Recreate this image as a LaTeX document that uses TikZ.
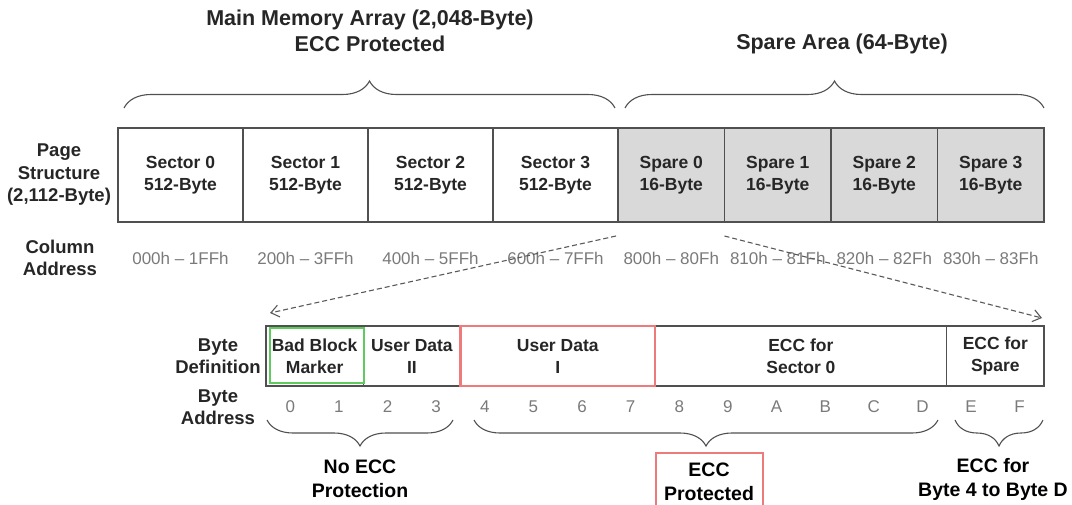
\documentclass[tikz,border=0pt]{standalone}
\usepackage{fontspec}
\setmainfont{Liberation Sans}
\usetikzlibrary{calc,positioning,arrows.meta,decorations.pathreplacing}

\definecolor{framegray}{HTML}{505050}
\definecolor{sparefill}{HTML}{D9D9D9}
\definecolor{addrgray}{HTML}{7A7A7A}
\definecolor{markgreen}{HTML}{5FCB5F}
\definecolor{markred}{HTML}{EE7B7B}

\tikzset{
  cell/.style={draw=framegray, line width=1.3pt, outer sep=0pt, inner sep=0pt,
    minimum height=94pt, align=center, text=black!85, font=\fontsize{17.5}{22}\selectfont\bfseries},
  bytecell/.style={cell, minimum height=60pt},
  addr/.style={text=addrgray, inner sep=0pt, font=\fontsize{17}{20}\selectfont},
  rowlabel/.style={align=center, inner sep=0pt, text=black!85, font=\fontsize{18.5}{22.5}\selectfont\bfseries},
  heading/.style={align=center, inner sep=0pt, text=black!85, font=\fontsize{21.5}{26}\selectfont\bfseries},
  note/.style={align=center, inner sep=0pt, font=\fontsize{19.5}{24}\selectfont\bfseries},
  bracetop/.style={decorate, decoration={brace,amplitude=27pt}, draw=framegray, line width=1.1pt},
  bracebot/.style={decorate, decoration={brace,mirror,amplitude=26pt}, draw=framegray, line width=1.1pt},
  zoomline/.style={draw=black!65, dash pattern=on 5pt off 3pt, line width=1.1pt,
    -{Straight Barb[length=8pt,width=12pt]}},
}

\begin{document}
\begin{tikzpicture}[x=1pt,y=-1pt]
\useasboundingbox (0,0) rectangle (1072,504);

% page structure
\foreach \i/\slo/\shi/\plo/\phi in {0/000h/1FFh/800h/80Fh, 1/200h/3FFh/810h/81Fh,
                                   2/400h/5FFh/820h/82Fh, 3/600h/7FFh/830h/83Fh} {
  \node[cell, minimum width=125pt] (sec\i) at (180.5+125*\i,175) {Sector \i\\512-Byte};
  \node[cell, fill=sparefill, minimum width=106.5pt] (spa\i) at (671.25+106.5*\i,175) {Spare \i\\16-Byte};
  \node[addr] (secadr\i) at (180.5+125*\i,258) {\slo{} -- \shi};
  \node[addr] (spaadr\i) at (671.25+106.5*\i,258) {\plo{} -- \phi};
}

\node[rowlabel] (pagelbl) at (59,175) {Page\\Structure\\(2,112-Byte)};
\node[rowlabel] (collbl) at (60,258) {Column\\Address};

% braces over the page
\coordinate (mainl) at (124,108);
\coordinate (mainr) at (615,108);
\coordinate (sparel) at (625,108);
\coordinate (sparer) at (1044,108);
\draw[bracetop] (mainl) -- (mainr);
\draw[bracetop] (sparel) -- (sparer);
\node[heading] (maintitle) at (370,31) {Main Memory Array (2,048-Byte)\\ECC Protected};
\node[heading] (sparetitle) at (842,44) {Spare Area (64-Byte)};

% spare 0 in detail
\node[bytecell, minimum width=97.25pt] (bbm) at (314.625,356) {Bad Block\\Marker};
\node[bytecell, minimum width=97.25pt, right=0pt of bbm] (ud2) {User Data\\II};
\node[bytecell, minimum width=194.5pt, right=0pt of ud2] (ud1) {User Data\\I};
\node[bytecell, minimum width=291.75pt, right=0pt of ud1] (eccsec) {ECC for\\Sector 0};
\node[bytecell, minimum width=97.25pt, right=0pt of eccsec] (eccspa) {ECC for\\Spare};

\draw[markgreen, line width=2pt] ($(bbm.north west)+(4,2)$) rectangle ($(bbm.south east)+(1,-3)$);
\draw[markred, line width=2.2pt] (ud1.north west) rectangle (ud1.south east);

\node[rowlabel] (deflbl) at (218,356) {Byte\\Definition};
\node[rowlabel] (adrlbl) at (218,407) {Byte\\Address};

\foreach \b [count=\n from 0] in {0,1,2,3,4,5,6,7,8,9,A,B,C,D,E,F}
  \node[addr] (byte\n) at ($(bbm.south west)+(24.3+48.625*\n,21)$) {\b};

% zoom from spare 0
\coordinate (zoomtl) at ($(bbm.north west)+(4,-13)$);
\coordinate (zoomtr) at ($(eccspa.north east)+(-2,-8)$);
\draw[zoomline] ($(spa0.south west)+(-2,14)$) -- (zoomtl);
\draw[zoomline] ($(spa1.south west)+(0,14)$) -- (zoomtr);

% braces under the bytes
\coordinate (noeccl) at (267,420);
\coordinate (noeccr) at (453,420);
\coordinate (eccl) at (474,420);
\coordinate (eccr) at (938,420);
\coordinate (spel) at (955,420);
\coordinate (sper) at (1043,420);
\draw[bracebot] (noeccl) -- (noeccr);
\draw[bracebot] (eccl) -- (eccr);
\draw[bracebot] (spel) -- (sper);

\node[note] (noecc) at (360,479) {No ECC\\Protection};
\node[note, draw=markred, line width=2pt, minimum width=107pt, minimum height=58pt] (eccprot) at (709,482) {ECC\\Protected};
\node[note] (eccspare) at (993,479) {ECC for\\Byte 4 to Byte D};

\end{tikzpicture}
\end{document}
